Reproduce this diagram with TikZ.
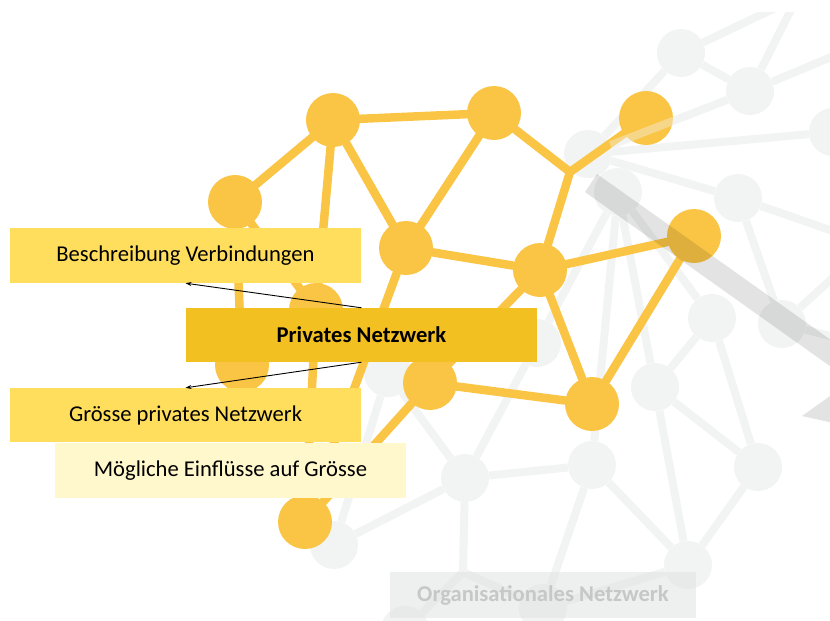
\documentclass[tikz,border=0pt]{standalone}
\usepackage{fontspec}
\setmainfont{Carlito}
\usetikzlibrary{arrows.meta}

\definecolor{netyellow}{RGB}{250,197,69}
\definecolor{netgrey}{RGB}{242,243,243}
\definecolor{boxyellow}{RGB}{255,222,94}
\definecolor{mainyellow}{RGB}{243,192,34}
\definecolor{paleyellow}{RGB}{255,248,204}
\definecolor{orggrey}{RGB}{226,228,228}
\definecolor{orgtext}{RGB}{198,200,200}

\newcommand{\boxfont}{\fontsize{22.6}{26}\selectfont}

\tikzset{
	infobox/.style={minimum width=351pt,minimum height=55pt,inner sep=0pt,font=\boxfont},
	pointer/.style={-{Stealth[length=6pt,width=4pt]},line width=0.9pt},
}

\begin{document}
\begin{tikzpicture}[x=1pt,y=-1pt]
	\useasboundingbox (0,0) rectangle (830,621);
	\clip (0,0) rectangle (830,621);

	% organisationales Netzwerk
	\begin{scope}
	\clip (0,12) rectangle (830,621);
	\begin{scope}[every node/.style={circle,fill=netgrey,
		inner sep=0pt, minimum size=48pt}]
	\node (O1) at (681,53) {};
	\node (O2) at (750,91) {};
	\node (O3) at (833,132) {};
	\node (O4) at (588,154) {};
	\node (O5) at (618,192) {};
	\node (O6) at (738,198) {};
	\node (O7) at (782,324) {};
	\node (O8) at (712,318) {};
	\node (O9) at (655,387) {};
	\node (O10) at (592,465) {};
	\node (O11) at (758,467) {};
	\node (O12) at (688,565) {};
	\node (O13) at (465,478) {};
	\node (O15) at (334,545) {};
	\node (O16) at (537,343) {};
	\node (O17) at (543,608) {};
	\node (O18) at (405,630) {};
	\node (O19) at (388,373) {};
	\end{scope}
	\coordinate (X1) at (817,-12);
	\coordinate (X2) at (802,-12);
	\coordinate (X3) at (860,45);
	\coordinate (X4) at (870,244);
	\coordinate (X5) at (870,346);
	\coordinate (OJ) at (463,572);

	\begin{scope}[color=netgrey,line width=8pt]
	\path (O1) edge (O2);
	\path (O1) edge (O4);
	\path (O1) edge (X1);
	\path (O2) edge (X2);
	\path (O2) edge (X3);
	\path (O4) edge (O2);
	\path (O4) edge (O3);
	\path (O4) edge (O5);
	\path (O4) edge (O6);
	\path (O6) edge (X4);
	\path (O6) edge (O7);
	\path (O7) edge (X4);
	\path (O7) edge (X5);
	\path (O5) edge (O8);
	\path (O5) edge (O9);
	\path (O5) edge (O10);
	\path (O5) edge (O16);
	\path (O8) edge (O9);
	\path (O8) edge (O11);
	\path (O9) edge (O11);
	\path (O9) edge (O12);
	\path (O10) edge (O13);
	\path (O10) edge (O12);
	\path (O10) edge (O17);
	\path (O11) edge (O12);
	\path (O12) edge (O17);
	\path (O13) edge (O16);
	\path (O13) edge (O19);
	\path (O13) edge (O15);
	\path (O13) edge (OJ);
	\path (OJ) edge (O18);
	\path (OJ) edge (O17);
	\path (O15) edge (O19);
	\end{scope}
	\end{scope}

	% privates Netzwerk
	\begin{scope}[every node/.style={circle,fill=netyellow,
		inner sep=0pt, minimum size=54pt}]
	\node (A) at (333,120) {};
	\node (B) at (494,113) {};
	\node (C) at (235,202) {};
	\node (D) at (406,248) {};
	\node (E) at (540,270) {};
	\node (F) at (646,118) {};
	\node (G) at (694,236) {};
	\node (H) at (592,404) {};
	\node (I) at (430,383) {};
	\node (K) at (316,310) {};
	\node (L) at (242,365) {};
	\node (M) at (305,522) {};
	\end{scope}
	\coordinate (J) at (570,172);

	\begin{scope}[color=netyellow,line width=8.5pt,line cap=round]
	\path (A) edge (B);
	\path (A) edge (C);
	\path (A) edge (D);
	\path (A) edge (K);
	\path (B) edge (D);
	\path (B) edge (J);
	\path (F) edge (J);
	\path (J) edge (E);
	\path (D) edge (E);
	\path (E) edge (G);
	\path (E) edge (H);
	\path (E) edge (I);
	\path (G) edge (H);
	\path (I) edge (H);
	\path (I) edge (M);
	\path (D) edge (M);
	\path (K) edge (M);
	\path (C) edge (K);
	\path (C) edge (L);
	\end{scope}
	\draw[netgrey,line width=8pt,opacity=0.4] (O4) -- (O2);

	% Balken
	\fill[black,opacity=0.11] (597,174) -- (1000,460) -- (802,416)
		-- (851,381) -- (585,192) -- cycle;

	% Kaesten
	\node[infobox,fill=boxyellow] (besch) at (185.5,255.5) {Beschreibung Verbindungen};
	\node[infobox,fill=mainyellow,minimum height=54pt,font=\boxfont\bfseries]
		(priv) at (361.5,335) {Privates Netzwerk};
	\node[infobox,fill=boxyellow,minimum height=54pt] (groesse) at (185.5,415) {Grösse privates Netzwerk};
	\node[infobox,fill=paleyellow] (einfl) at (230.5,470.5) {Mögliche Einflüsse auf Grösse};
	\node[minimum width=306pt,minimum height=46pt,inner sep=0pt,fill=orggrey,
		fill opacity=0.6,text opacity=1,text=orgtext,font=\boxfont\bfseries]
		(org) at (543,595) {Organisationales Netzwerk};

	\draw[pointer] (priv.north) -- (besch.south);
	\draw[pointer] (priv.south) -- (groesse.north);
\end{tikzpicture}
\end{document}
